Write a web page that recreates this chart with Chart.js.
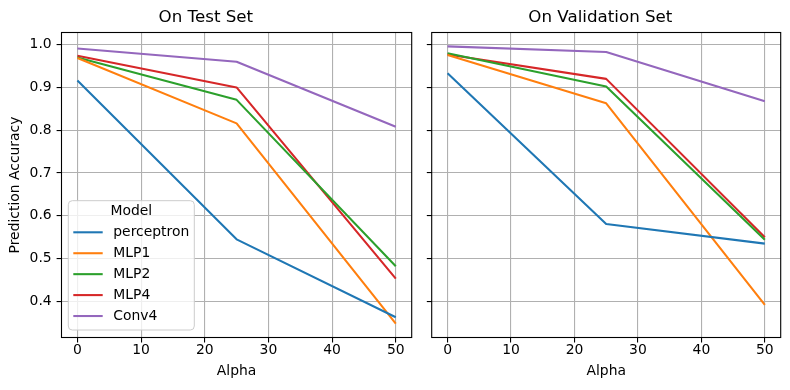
<!DOCTYPE html>
<html><head><meta charset="utf-8">
<script src="https://cdn.jsdelivr.net/npm/chart.js@4"></script>
<style>
html,body{margin:0;padding:0;background:#fff;}
#wrap{position:relative;width:790px;height:390px;overflow:hidden;}
canvas{position:absolute;top:0;}
</style></head><body>
<div id="wrap">
<canvas id="c1" width="420" height="390" style="left:0px"></canvas>
<canvas id="c2" width="370" height="390" style="left:420px"></canvas>
</div>
<script>
// ---- data ----
const alphas = [0, 25, 50];
const models = ['perceptron', 'MLP1', 'MLP2', 'MLP4', 'Conv4'];
const colors = ['#1f77b4', '#ff7f0e', '#2ca02c', '#d62728', '#9467bd'];

const testPerceptron = [0.916, 0.545, 0.363];
const testMLP1       = [0.969, 0.816, 0.348];
const testMLP2       = [0.970, 0.871, 0.482];
const testMLP4       = [0.974, 0.900, 0.453];
const testConv4      = [0.991, 0.960, 0.808];

const valPerceptron = [0.933, 0.581, 0.535];
const valMLP1       = [0.976, 0.863, 0.392];
const valMLP2       = [0.980, 0.902, 0.544];
const valMLP4       = [0.977, 0.920, 0.550];
const valConv4      = [0.996, 0.983, 0.868];

const xTicks = [0, 10, 20, 30, 40, 50];
const yTicks = [0.4, 0.5, 0.6, 0.7, 0.8, 0.9, 1.0];

const titles = ['On Test Set', 'On Validation Set'];
const xLabel = 'Alpha';
const yLabel = 'Prediction Accuracy';
const legendTitle = 'Model';

// ---- chart setup ----
const FONT = "'DejaVu Sans', sans-serif";
Chart.defaults.font.family = FONT;
Chart.defaults.color = '#000';

function makeDatasets(series) {
  return series.map((vals, i) => ({
    label: models[i],
    data: alphas.map((a, j) => ({x: a, y: vals[j]})),
    borderColor: colors[i],
    backgroundColor: colors[i],
    borderWidth: 2.08,
    pointRadius: 0,
    pointHoverRadius: 0,
    fill: false,
    tension: 0,
    borderJoinStyle: 'round'
  }));
}

const framePlugin = {
  id: 'frame',
  afterDraw(chart) {
    const {ctx, chartArea: a} = chart;
    ctx.save();
    ctx.strokeStyle = '#000';
    ctx.lineWidth = 1.1;
    ctx.strokeRect(a.left, a.top, a.right - a.left, a.bottom - a.top);
    ctx.restore();
  }
};

const legendPlugin = {
  id: 'mplLegend',
  afterDraw(chart, args, opts) {
    if (!opts || !opts.show) return;
    const {ctx, chartArea: a} = chart;
    const x0 = a.left + 6.8, y1 = a.bottom - 7.5;
    const w = 126, h = 129.3;
    const y0 = y1 - h;
    ctx.save();
    ctx.globalAlpha = 0.8;
    ctx.fillStyle = '#fff';
    ctx.beginPath();
    ctx.roundRect(x0, y0, w, h, 4);
    ctx.fill();
    ctx.globalAlpha = 1;
    ctx.strokeStyle = '#cccccc';
    ctx.lineWidth = 1;
    ctx.stroke();
    ctx.fillStyle = '#000';
    ctx.font = '13.9px ' + FONT;
    ctx.textBaseline = 'middle';
    ctx.textAlign = 'center';
    ctx.fillText(legendTitle, x0 + w / 2, y0 + 10.5);
    ctx.textAlign = 'left';
    chart.data.datasets.forEach((ds, i) => {
      const yy = y0 + 31.6 + i * 20.93;
      ctx.strokeStyle = ds.borderColor;
      ctx.lineWidth = 2.08;
      ctx.beginPath();
      ctx.moveTo(x0 + 5, yy);
      ctx.lineTo(x0 + 34.4, yy);
      ctx.stroke();
      ctx.fillStyle = '#000';
      ctx.fillText(ds.label, x0 + 45, yy);
    });
    ctx.restore();
  }
};

function makeChart(canvasId, series, title, isLeft) {
  const padRight = isLeft ? 8.3 : 9.3;
  const yWidth = isLeft ? 61.5 : 11.7;
  return new Chart(document.getElementById(canvasId), {
    type: 'line',
    data: {datasets: makeDatasets(series)},
    options: {
      responsive: false,
      animation: false,
      devicePixelRatio: 1,
      layout: {padding: {left: 0, right: padRight, top: 0, bottom: 0}},
      plugins: {
        legend: {display: false},
        tooltip: {enabled: false},
        title: {
          display: true,
          text: title,
          color: '#000',
          font: {size: 16.7, weight: 'normal', family: FONT, lineHeight: 1.2},
          padding: {top: 7.5, bottom: 4.96}
        },
        mplLegend: {show: isLeft}
      },
      scales: {
        x: {
          type: 'linear',
          min: -2.5,
          max: 52.5,
          border: {display: false},
          grid: {color: '#b0b0b0', lineWidth: 1.1, tickColor: '#000', tickLength: 4.9, drawTicks: true},
          ticks: {padding: 0, font: {size: 13.9, family: FONT}, color: '#000', maxRotation: 0, autoSkip: false,
                  callback: v => String(v)},
          afterBuildTicks: s => { s.ticks = xTicks.map(v => ({value: v})); },
          afterFit: s => { s.height = 52.5; },
          title: {display: true, text: xLabel, color: '#000',
                  font: {size: 13.9, family: FONT, lineHeight: 1.2}, padding: {top: 0, bottom: 9.95}}
        },
        y: {
          type: 'linear',
          min: 0.3156,
          max: 1.0284,
          border: {display: false},
          grid: {color: '#b0b0b0', lineWidth: 1.1, tickColor: '#000', tickLength: 4.9, drawTicks: true},
          ticks: {display: isLeft, padding: 4.9, font: {size: 13.9, family: FONT}, color: '#000', autoSkip: false,
                  callback: v => v.toFixed(1)},
          afterBuildTicks: s => { s.ticks = yTicks.map(v => ({value: v})); },
          afterFit: s => { s.width = yWidth; },
          title: {display: isLeft, text: yLabel, color: '#000',
                  font: {size: 13.9, family: FONT, lineHeight: 1.2}, padding: {top: 7.35, bottom: 0}}
        }
      }
    },
    plugins: [framePlugin, legendPlugin]
  });
}

makeChart('c1', [testPerceptron, testMLP1, testMLP2, testMLP4, testConv4], titles[0], true);
makeChart('c2', [valPerceptron, valMLP1, valMLP2, valMLP4, valConv4], titles[1], false);
</script>
</body></html>
